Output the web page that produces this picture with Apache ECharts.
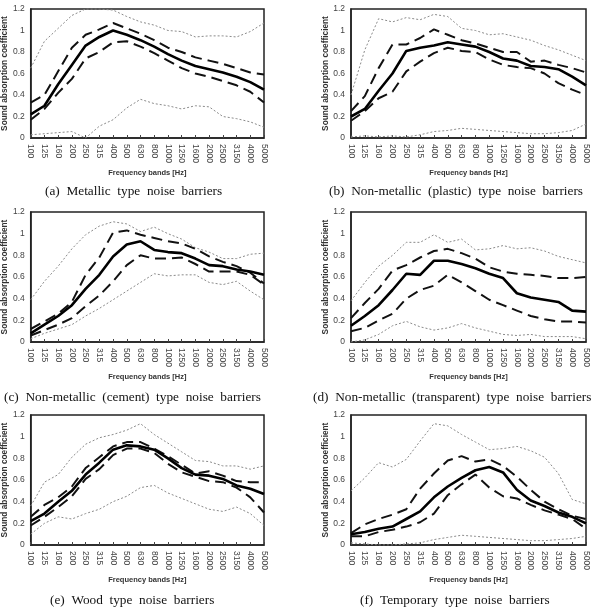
<!DOCTYPE html>
<html>
<head>
<meta charset="utf-8">
<script src="https://cdn.jsdelivr.net/npm/echarts@6/dist/echarts.min.js"></script>
<style>
  html, body { margin: 0; padding: 0; background: #fff; }
  #myChart { width: 594px; height: 615px; }
</style>
</head>
<body>
<div id="myChart"></div>
<script>
// frequency bands (x axis)
const freqs = ['100', '125', '160', '200', '250', '315', '400', '500', '630', '800', '1000', '1250', '1600', '2000', '2500', '3150', '4000', '5000']
const yTicks = [0, 0.2, 0.4, 0.6, 0.8, 1, 1.2]

// (a) metallic
const aMean = [0.22, 0.30, 0.50, 0.68, 0.86, 0.94, 1.00, 0.96, 0.91, 0.85, 0.78, 0.72, 0.67, 0.64, 0.61, 0.57, 0.52, 0.45]
const aUpper = [0.33, 0.40, 0.62, 0.84, 0.96, 1.01, 1.07, 1.02, 0.97, 0.91, 0.84, 0.80, 0.75, 0.72, 0.69, 0.65, 0.61, 0.59]
const aLower = [0.17, 0.27, 0.42, 0.55, 0.74, 0.80, 0.89, 0.90, 0.85, 0.79, 0.72, 0.65, 0.60, 0.57, 0.53, 0.49, 0.43, 0.33]
const aMax = [0.65, 0.90, 1.02, 1.14, 1.20, 1.20, 1.19, 1.13, 1.08, 1.05, 1.00, 0.99, 0.94, 0.95, 0.95, 0.94, 0.99, 1.07]
const aMin = [0.03, 0.04, 0.05, 0.06, 0.00, 0.11, 0.17, 0.28, 0.36, 0.32, 0.30, 0.27, 0.30, 0.29, 0.20, 0.18, 0.15, 0.10]

// (b) non-metallic (plastic)
const bMean = [0.20, 0.27, 0.44, 0.60, 0.81, 0.84, 0.86, 0.89, 0.87, 0.85, 0.80, 0.74, 0.72, 0.67, 0.66, 0.64, 0.57, 0.49]
const bUpper = [0.25, 0.39, 0.65, 0.87, 0.87, 0.93, 1.01, 0.96, 0.91, 0.88, 0.84, 0.80, 0.80, 0.71, 0.72, 0.68, 0.65, 0.61]
const bLower = [0.16, 0.25, 0.37, 0.43, 0.62, 0.71, 0.79, 0.84, 0.81, 0.80, 0.73, 0.68, 0.66, 0.65, 0.60, 0.51, 0.45, 0.40]
const bMax = [0.40, 0.82, 1.11, 1.08, 1.12, 1.10, 1.15, 1.13, 1.02, 1.00, 0.96, 0.97, 0.94, 0.91, 0.86, 0.82, 0.77, 0.72]
const bMin = [0.01, 0.02, 0.01, 0.02, 0.01, 0.03, 0.06, 0.07, 0.09, 0.08, 0.07, 0.06, 0.05, 0.04, 0.04, 0.05, 0.07, 0.13]

// (c) non-metallic (cement)
const cMean = [0.08, 0.16, 0.24, 0.34, 0.49, 0.62, 0.79, 0.90, 0.93, 0.85, 0.83, 0.82, 0.77, 0.71, 0.70, 0.67, 0.65, 0.62]
const cUpper = [0.12, 0.19, 0.26, 0.37, 0.62, 0.78, 1.01, 1.03, 0.99, 0.96, 0.93, 0.91, 0.86, 0.79, 0.74, 0.70, 0.64, 0.54]
const cLower = [0.06, 0.11, 0.16, 0.22, 0.33, 0.43, 0.56, 0.71, 0.80, 0.77, 0.77, 0.78, 0.72, 0.65, 0.65, 0.65, 0.62, 0.53]
const cMax = [0.39, 0.56, 0.70, 0.86, 0.99, 1.07, 1.11, 1.09, 1.02, 1.06, 1.00, 0.95, 0.87, 0.83, 0.77, 0.77, 0.81, 0.82]
const cMin = [0.03, 0.08, 0.12, 0.16, 0.24, 0.31, 0.39, 0.47, 0.55, 0.63, 0.61, 0.62, 0.62, 0.55, 0.53, 0.56, 0.47, 0.39]

// (d) non-metallic (transparent)
const dMean = [0.15, 0.24, 0.34, 0.48, 0.63, 0.62, 0.75, 0.75, 0.72, 0.68, 0.63, 0.59, 0.45, 0.41, 0.39, 0.37, 0.29, 0.28]
const dUpper = [0.22, 0.36, 0.49, 0.66, 0.71, 0.78, 0.84, 0.86, 0.82, 0.77, 0.69, 0.65, 0.63, 0.62, 0.61, 0.59, 0.59, 0.60]
const dLower = [0.10, 0.13, 0.20, 0.26, 0.40, 0.48, 0.52, 0.62, 0.55, 0.47, 0.39, 0.34, 0.29, 0.24, 0.21, 0.19, 0.19, 0.18]
const dMax = [0.38, 0.55, 0.70, 0.80, 0.92, 0.92, 0.99, 0.92, 0.95, 0.85, 0.86, 0.89, 0.86, 0.87, 0.84, 0.79, 0.76, 0.73]
const dMin = [0.00, 0.02, 0.07, 0.15, 0.19, 0.14, 0.11, 0.13, 0.17, 0.13, 0.10, 0.07, 0.06, 0.07, 0.05, 0.05, 0.05, 0.03]

// (e) wood
const eMean = [0.22, 0.29, 0.40, 0.50, 0.65, 0.76, 0.88, 0.92, 0.91, 0.88, 0.80, 0.71, 0.65, 0.64, 0.61, 0.55, 0.52, 0.47]
const eUpper = [0.26, 0.37, 0.44, 0.54, 0.71, 0.81, 0.91, 0.95, 0.95, 0.89, 0.82, 0.74, 0.66, 0.68, 0.64, 0.59, 0.58, 0.58]
const eLower = [0.18, 0.26, 0.35, 0.45, 0.61, 0.70, 0.83, 0.89, 0.89, 0.85, 0.75, 0.67, 0.63, 0.59, 0.58, 0.53, 0.44, 0.30]
const eMax = [0.36, 0.58, 0.65, 0.81, 0.93, 0.99, 1.02, 1.06, 1.12, 1.02, 0.94, 0.86, 0.78, 0.77, 0.73, 0.73, 0.70, 0.73]
const eMin = [0.10, 0.20, 0.26, 0.24, 0.29, 0.33, 0.40, 0.45, 0.53, 0.55, 0.48, 0.43, 0.38, 0.33, 0.31, 0.35, 0.29, 0.18]

// (f) temporary
const fMean = [0.10, 0.12, 0.15, 0.17, 0.24, 0.31, 0.44, 0.54, 0.62, 0.69, 0.72, 0.67, 0.51, 0.41, 0.36, 0.30, 0.26, 0.20]
const fUpper = [0.11, 0.19, 0.24, 0.28, 0.33, 0.52, 0.66, 0.78, 0.82, 0.77, 0.79, 0.73, 0.63, 0.51, 0.40, 0.33, 0.27, 0.24]
const fLower = [0.08, 0.08, 0.12, 0.14, 0.17, 0.21, 0.29, 0.46, 0.56, 0.65, 0.53, 0.45, 0.43, 0.37, 0.32, 0.28, 0.24, 0.15]
const fMax = [0.50, 0.62, 0.76, 0.72, 0.79, 0.96, 1.12, 1.10, 1.02, 0.95, 0.88, 0.89, 0.91, 0.87, 0.81, 0.66, 0.42, 0.38]
const fMin = [0.02, 0.01, 0.00, 0.00, 0.01, 0.02, 0.05, 0.07, 0.09, 0.08, 0.07, 0.06, 0.05, 0.04, 0.04, 0.05, 0.06, 0.08]

const panels = [
  { mean: aMean, upper: aUpper, lower: aLower, max: aMax, min: aMin, caption: '(a)  Metallic  type  noise  barriers' },
  { mean: bMean, upper: bUpper, lower: bLower, max: bMax, min: bMin, caption: '(b)  Non-metallic  (plastic)  type  noise  barriers' },
  { mean: cMean, upper: cUpper, lower: cLower, max: cMax, min: cMin, caption: '(c)  Non-metallic  (cement)  type  noise  barriers' },
  { mean: dMean, upper: dUpper, lower: dLower, max: dMax, min: dMin, caption: '(d)  Non-metallic  (transparent)  type  noise  barriers' },
  { mean: eMean, upper: eUpper, lower: eLower, max: eMax, min: eMin, caption: '(e)  Wood  type  noise  barriers' },
  { mean: fMean, upper: fUpper, lower: fLower, max: fMax, min: fMin, caption: '(f)  Temporary  type  noise  barriers' }
]

// plot box positions
const boxes = [
  { left: 28, top: 9, width: 236, height: 129 },
  { left: 351, top: 9, width: 235, height: 129 },
  { left: 28, top: 212, width: 236, height: 130 },
  { left: 351, top: 212, width: 235, height: 130 },
  { left: 28, top: 415, width: 236, height: 130 },
  { left: 351, top: 415, width: 235, height: 130 }
]
const captionPos = [[45, 193], [329, 193], [4, 399], [313, 399], [50, 602], [360, 602]]

function line(idx, data, kind) {
  const styles = {
    mean: { color: '#000', width: 2.6, type: 'solid' },
    sd: { color: '#111', width: 2, type: [11, 6] },
    range: { color: '#8a8a8a', width: 1, type: [2, 2] }
  }
  return {
    type: 'line',
    xAxisIndex: idx,
    yAxisIndex: idx,
    data: data,
    symbol: 'none',
    silent: true,
    lineStyle: styles[kind],
    z: kind === 'mean' ? 5 : kind === 'sd' ? 4 : 3
  }
}

const myChart = echarts.init(document.getElementById('myChart'))
const grid = []
const xAxis = []
const yAxis = []
const series = []
const graphic = []

panels.forEach((p, i) => {
  const b = boxes[i]
  grid.push({
    left: b.left, top: b.top, width: b.width, height: b.height,
    show: true, borderColor: '#222', borderWidth: 1.5, backgroundColor: 'transparent'
  })
  xAxis.push({
    type: 'category',
    gridIndex: i,
    data: freqs,
    boundaryGap: false,
    name: 'Frequency bands [Hz]',
    nameLocation: 'middle',
    nameGap: 31,
    nameTextStyle: { fontFamily: 'Liberation Sans', fontWeight: 'bold', fontSize: 7.5, color: '#333' },
    axisLine: { lineStyle: { color: '#222', width: 1.5 } },
    axisTick: { inside: true, length: 3, lineStyle: { color: '#444' } },
    axisLabel: { rotate: -90, interval: 0, margin: 6, fontFamily: 'Liberation Sans', fontSize: 8.5, color: '#444' },
    splitLine: { show: false }
  })
  yAxis.push({
    type: 'value',
    gridIndex: i,
    min: 0,
    max: 1.2,
    interval: 0.2,
    name: 'Sound absorption coefficient',
    nameLocation: 'middle',
    nameGap: 20,
    nameTextStyle: { fontFamily: 'Liberation Sans', fontWeight: 'bold', fontSize: 8.3, color: '#333' },
    axisLine: { show: true, lineStyle: { color: '#222', width: 1.5 } },
    axisTick: { show: false },
    axisLabel: {
      margin: 6, fontFamily: 'Liberation Sans', fontSize: 8.5, color: '#444',
      formatter: v => String(yTicks.find(t => Math.abs(t - v) < 1e-6) ?? v)
    },
    splitLine: { show: false }
  })
  series.push(line(i, p.max, 'range'))
  series.push(line(i, p.min, 'range'))
  series.push(line(i, p.upper, 'sd'))
  series.push(line(i, p.lower, 'sd'))
  series.push(line(i, p.mean, 'mean'))
  graphic.push({
    type: 'text',
    left: captionPos[i][0],
    top: captionPos[i][1] - 8,
    style: {
      text: p.caption,
      font: '13.3px "Liberation Serif"',
      fill: '#111'
    }
  })
})

const option = {
  animation: false,
  grid: grid,
  xAxis: xAxis,
  yAxis: yAxis,
  series: series,
  graphic: graphic
}
myChart.setOption(option)
</script>
</body>
</html>
